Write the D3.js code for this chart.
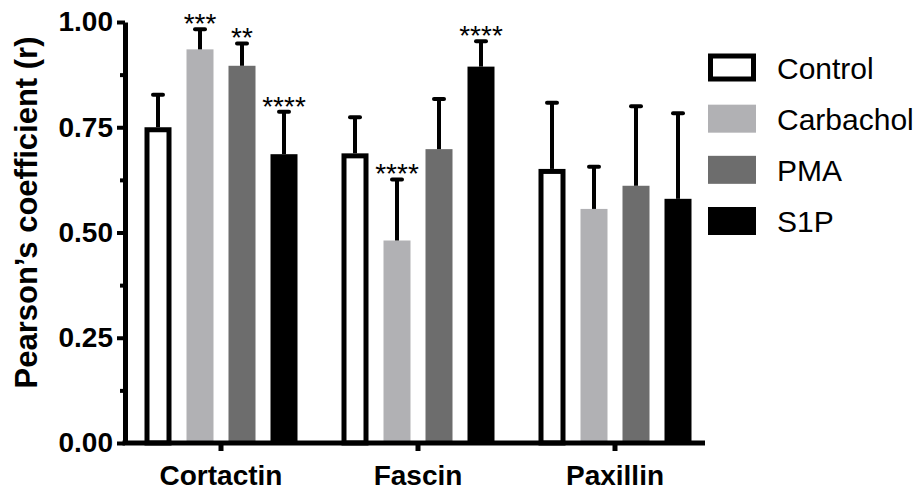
<!DOCTYPE html>
<html>
<head>
<meta charset="utf-8">
<script src="https://cdn.jsdelivr.net/npm/d3@7"></script>
<style>
  body { margin: 0; background: #fff; }
  text { font-family: "Liberation Sans", Arial, sans-serif; }
</style>
</head>
<body>
<div id="chart"></div>
<script>
var width = 918, height = 492;

// data
var groups = ["Cortactin", "Fascin", "Paxillin"];
var series = ["Control", "Carbachol", "PMA", "S1P"];
var colors = ["#ffffff", "#b1b1b4", "#6d6d6d", "#000000"];

var controlMean = [0.750, 0.688, 0.651];
var carbacholMean = [0.935, 0.481, 0.556];
var pmaMean = [0.896, 0.698, 0.611];
var s1pMean = [0.686, 0.894, 0.580];

var controlSD = [0.077, 0.086, 0.157];
var carbacholSD = [0.048, 0.145, 0.100];
var pmaSD = [0.053, 0.119, 0.189];
var s1pSD = [0.101, 0.060, 0.203];

var controlStars = ["", "", ""];
var carbacholStars = ["***", "****", ""];
var pmaStars = ["**", "", ""];
var s1pStars = ["****", "****", ""];

var yTicks = [0, 0.25, 0.5, 0.75, 1];
var yMinor = [0.125, 0.375, 0.625, 0.875];

var means = [controlMean, carbacholMean, pmaMean, s1pMean];
var sds = [controlSD, carbacholSD, pmaSD, s1pSD];
var stars = [controlStars, carbacholStars, pmaStars, s1pStars];

// flat table for drawing
var rows = [];
for (var g = 0; g < groups.length; g++) {
  for (var s = 0; s < series.length; s++) {
    rows.push({group: groups[g], series: series[s], idx: s,
      mean: means[s][g], sd: sds[s][g], star: stars[s][g]});
  }
}

var svg = d3.select("#chart").append("svg")
  .attr("width", width)
  .attr("height", height);

var yScale = d3.scaleLinear().domain([0, 1]).range([443, 22]);
var x0 = d3.scaleBand().domain(groups).range([122.5, 713.5]);
var x1 = d3.scaleBand().domain(series).range([14.5, 182.5])
  .paddingInner(15 / 42).paddingOuter(7.5 / 42);

// bars
var bars = svg.append("g");
rows.forEach(function(d) {
  var x = x0(d.group) + x1(d.series);
  var w = x1.bandwidth();
  if (d.idx == 0) {
    bars.append("rect")
      .attr("x", x + 2.5)
      .attr("y", yScale(d.mean) + 2.5)
      .attr("width", w - 5)
      .attr("height", yScale(0) - yScale(d.mean) - 2.5)
      .attr("fill", colors[0])
      .attr("stroke", "#000")
      .attr("stroke-width", 5);
  } else {
    bars.append("rect")
      .attr("x", x)
      .attr("y", yScale(d.mean))
      .attr("width", w)
      .attr("height", yScale(0) - yScale(d.mean))
      .attr("fill", colors[d.idx]);
  }

  // error bar (upper only)
  var cx = x + w / 2;
  var top = yScale(d.mean + d.sd);
  bars.append("line")
    .attr("x1", cx).attr("x2", cx)
    .attr("y1", yScale(d.mean)).attr("y2", top)
    .attr("stroke", "#000").attr("stroke-width", 4);
  bars.append("line")
    .attr("x1", cx - 5).attr("x2", cx + 5)
    .attr("y1", top).attr("y2", top)
    .attr("stroke", "#000").attr("stroke-width", 4)
    .attr("stroke-linecap", "round");

  if (d.star != "") {
    bars.append("text")
      .attr("x", cx)
      .attr("y", top + 4)
      .text(d.star)
      .style("font-size", "28px")
      .style("text-anchor", "middle");
  }
});

// y axis
var yAxis = svg.append("g")
  .attr("transform", "translate(125,0)")
  .call(d3.axisLeft(yScale).tickValues(yTicks).tickFormat(d3.format(".2f"))
    .tickSize(8).tickSizeOuter(0).tickPadding(4));
yAxis.select(".domain").attr("stroke-width", 5).attr("stroke", "#000");
yAxis.selectAll(".tick line").attr("stroke-width", 4).attr("stroke", "#000");
yAxis.selectAll(".tick text")
  .style("font-size", "28px").style("font-weight", "bold")
  .attr("fill", "#000");

var yMinorAxis = svg.append("g")
  .attr("transform", "translate(125,0)")
  .call(d3.axisLeft(yScale).tickValues(yMinor).tickFormat("").tickSize(5).tickSizeOuter(0));
yMinorAxis.select(".domain").remove();
yMinorAxis.selectAll(".tick line").attr("stroke-width", 4).attr("stroke", "#000");

// x axis
svg.append("line")
  .attr("x1", 122.5).attr("x2", 705)
  .attr("y1", yScale(0)).attr("y2", yScale(0))
  .attr("stroke", "#000").attr("stroke-width", 5);

var xAxis = svg.append("g")
  .attr("transform", "translate(0," + yScale(0) + ")")
  .call(d3.axisBottom(x0).tickSize(8).tickSizeOuter(0).tickPadding(14));
xAxis.select(".domain").remove();
xAxis.selectAll(".tick line").attr("stroke-width", 5).attr("stroke", "#000");
xAxis.selectAll(".tick text")
  .style("font-size", "28px").style("font-weight", "bold")
  .attr("fill", "#000");

// y label
svg.append("text")
  .attr("transform", "translate(37,212.5) rotate(-90)")
  .text("Pearson\u2019s coefficient (r)")
  .style("font-size", "31px")
  .style("font-weight", "bold")
  .style("text-anchor", "middle");

// legend
var legend = svg.append("g").attr("transform", "translate(708,0)");
var legendY = d3.scalePoint().domain(series).range([67.5, 221]);
series.forEach(function(name, i) {
  var cy = legendY(name);
  if (i == 0) {
    legend.append("rect")
      .attr("x", 2.5).attr("y", cy - 14 + 2.5)
      .attr("width", 43).attr("height", 23)
      .attr("fill", colors[0])
      .attr("stroke", "#000").attr("stroke-width", 5);
  } else {
    legend.append("rect")
      .attr("x", 0).attr("y", cy - 14)
      .attr("width", 48).attr("height", 28)
      .attr("fill", colors[i]);
  }
  legend.append("text")
    .attr("x", 69)
    .attr("y", cy + 11)
    .text(name)
    .style("font-size", "30px");
});
</script>
</body>
</html>
